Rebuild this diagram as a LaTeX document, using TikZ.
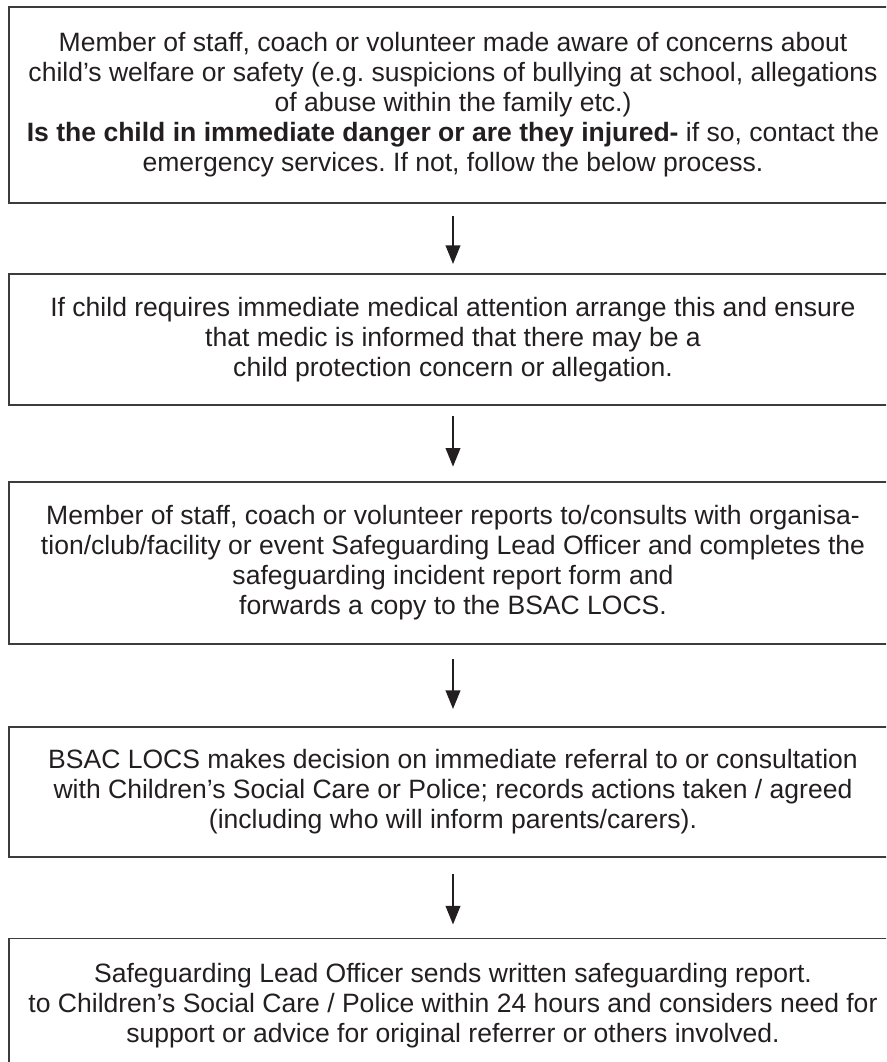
\documentclass[tikz,border=0pt]{standalone}
\usepackage{fontspec}
\setmainfont{Liberation Sans}
\usepackage{xcolor}
\usetikzlibrary{arrows.meta}
\definecolor{inkgray}{RGB}{35,31,32}
\definecolor{framegray}{RGB}{60,60,60}
\frenchspacing

\begin{document}
\begin{tikzpicture}[x=0.75pt,y=0.75pt,yscale=-1,xscale=1,
  stagebox/.style={draw=framegray, line width=1pt, rectangle, inner sep=0pt,
    minimum width=666pt, align=center, text=inkgray,
    font=\fontsize{19.9}{22.5}\selectfont},
  downarrow/.style={draw=inkgray, line width=1.4pt,
    -{Triangle[length=14pt,width=11pt]}}]
%set diagram left start at 0, and has height of 1062
\useasboundingbox (0,0) rectangle (886,1062);
\clip (0,0) rectangle (886,1062);

% Text Node
\node [stagebox, minimum height=147pt] (aware) at (453,105)
  {Member of staff, coach or volunteer made aware of concerns about\\
   child’s welfare or safety (e.g. suspicions of bullying at school, allegations\\
   of abuse within the family etc.)\\
   \textbf{Is the child in immediate danger or are they injured-} if so, contact the\\
   emergency services. If not, follow the below process.};
% Text Node
\node [stagebox, minimum height=98.25pt] (medic) at (453,339.5)
  {If child requires immediate medical attention arrange this and ensure\\
   that medic is informed that there may be a\\
   child protection concern or allegation.};
% Text Node
\node [stagebox, minimum height=121.5pt] (report) at (453,563)
  {Member of staff, coach or volunteer reports to/consults with organisa-\\
   tion/club/facility or event Safeguarding Lead Officer and completes the\\
   safeguarding incident report form and\\
   forwards a copy to the BSAC LOCS.};
% Text Node
\node [stagebox, minimum height=97.5pt] (locs) at (453,792)
  {BSAC LOCS makes decision on immediate referral to or consultation\\
   with Children’s Social Care or Police; records actions taken / agreed\\
   (including who will inform parents/carers).};
% Text Node
\node [stagebox, minimum height=100.5pt] (written) at (453,1005.5)
  {Safeguarding Lead Officer sends written safeguarding report.\\
   to Children’s Social Care / Police within 24 hours and considers need for\\
   support or advice for original referrer or others involved.};

%Straight Lines
\draw [downarrow, shorten <=9pt, shorten >=7pt] (aware.south) -- (medic.north);
%Straight Lines
\draw [downarrow, shorten <=8pt, shorten >=11pt] (medic.south) -- (report.north);
%Straight Lines
\draw [downarrow, shorten <=11pt, shorten >=13pt] (report.south) -- (locs.north);
%Straight Lines
\draw [downarrow, shorten <=12pt, shorten >=10pt] (locs.south) -- (written.north);

\end{tikzpicture}
\end{document}
